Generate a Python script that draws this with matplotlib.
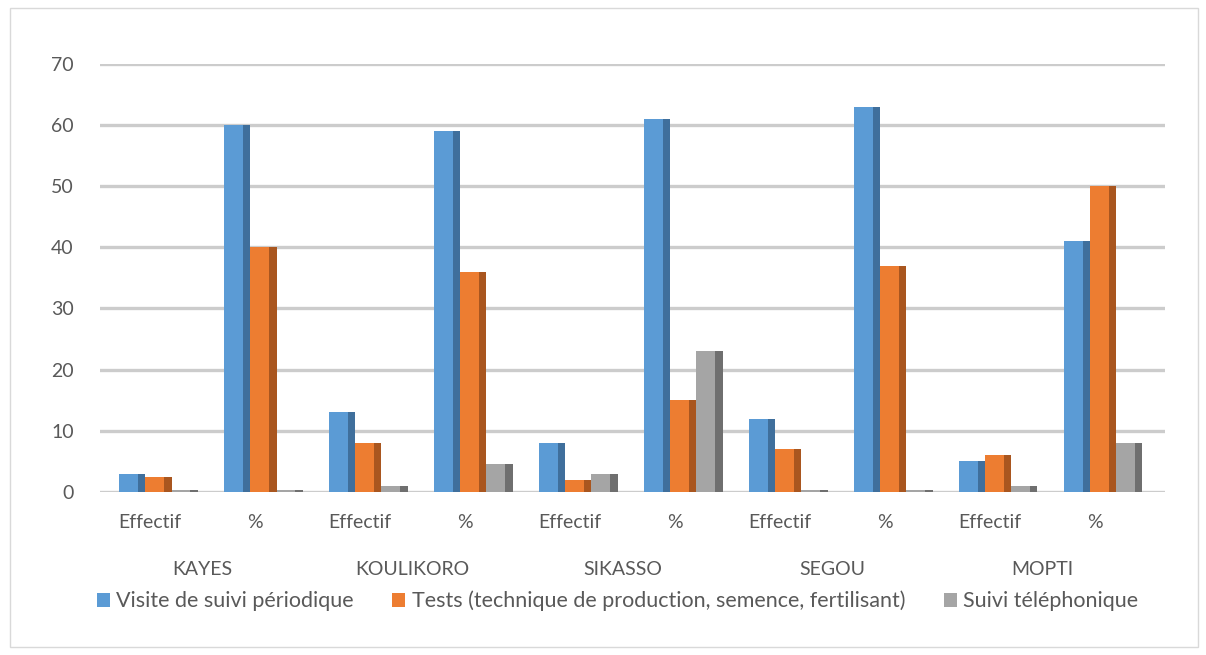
import matplotlib
matplotlib.use('Agg')
import matplotlib.pyplot as plt
from matplotlib.patches import Rectangle
import numpy as np

regions = ['KAYES', 'KOULIKORO', 'SIKASSO', 'SEGOU', 'MOPTI']
subcats = ['Effectif', '%']
visite = [3, 60, 13, 59, 8, 61, 12, 63, 5, 41]
tests = [2.5, 40, 8, 36, 2, 15, 7, 37, 6, 50]
telephone = [0.3, 0.3, 1, 4.5, 3, 23, 0.3, 0.3, 1, 8]

series = [
    ('Visite de suivi périodique', visite, '#5b9bd5', '#3f6f9c'),
    ('Tests (technique de production, semence, fertilisant)', tests, '#ed7d31', '#a9561f'),
    ('Suivi téléphonique', telephone, '#a5a5a5', '#6f6f6f'),
]

plt.rcParams['font.family'] = ['Lato', 'DejaVu Sans']
txt = '#595959'

fig = plt.figure(figsize=(12.06, 6.55), dpi=100)
ax = fig.add_axes([0.083, 0.249, 0.883, 0.6535])

x = np.arange(len(visite))
w = 0.25
for k, (name, vals, col, side) in enumerate(series):
    pos = x + (k - 1) * w + 0.08
    # front face + darker side strip to mimic the 3D look
    ax.bar(pos - w * 0.14, vals, width=w * 0.72, color=col, zorder=3, label=name)
    ax.bar(pos + w * 0.36, vals, width=w * 0.28, color=side, zorder=3)

ax.set_xlim(-0.476, 9.67)
ax.set_ylim(0, 70)
ax.set_yticks(range(0, 71, 10))
ax.yaxis.grid(True, color='#cccccc', linewidth=2.4, zorder=0)
ax.set_axisbelow(True)
for s in ax.spines.values():
    s.set_visible(False)
ax.tick_params(axis='y', length=0, pad=19, labelsize=14, labelcolor=txt)
ax.set_xticks(x)
ax.set_xticklabels(subcats * len(regions), fontsize=14, color=txt)
ax.tick_params(axis='x', length=0, pad=16)

for i, r in enumerate(regions):
    ax.text(2 * i + 0.5, -0.182, r, transform=ax.get_xaxis_transform(),
            ha='center', va='center', fontsize=14, color=txt)

ax.legend(loc='center', bbox_to_anchor=(0.486, -0.255), ncol=3, frameon=False,
          fontsize=15.5, handlelength=0.6, handleheight=0.6, handletextpad=0.3,
          columnspacing=1.8, labelcolor=txt)

fig.patches.append(Rectangle((0.008, 0.012), 0.985, 0.976, transform=fig.transFigure,
                             fill=False, edgecolor='#d9d9d9', linewidth=1))

fig.savefig('out.png', dpi=100)
